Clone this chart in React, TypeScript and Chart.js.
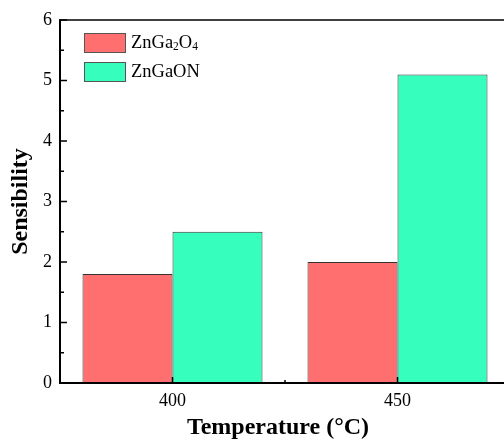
import React, { useEffect, useRef } from "react";
import { Chart, registerables } from "chart.js";

Chart.register(...registerables);

const categories = ["400", "450"];
const seriesNames = ["ZnGa2O4", "ZnGaON"];
const znGa2O4 = [1.8, 2.0];
const znGaON = [2.5, 5.1];
const yTicks = [0, 1, 2, 3, 4, 5, 6];
const xTitle = "Temperature (°C)";
const yTitle = "Sensibility";

const RED = "#FF6F6F";
const GREEN = "#36FFBE";
const SERIF = "'Liberation Serif', 'Times New Roman', serif";

function drawSubText(ctx: CanvasRenderingContext2D, text: string, x: number, y: number, size: number) {
  let cx = x;
  for (const ch of text) {
    if (/[0-9]/.test(ch)) {
      ctx.font = `${size * 0.62}px ${SERIF}`;
      ctx.fillText(ch, cx, y + size * 0.22);
    } else {
      ctx.font = `${size}px ${SERIF}`;
      ctx.fillText(ch, cx, y);
    }
    cx += ctx.measureText(ch).width;
  }
}

const decorPlugin = {
  id: "decor",
  afterDatasetsDraw(chart: any) {
    const { ctx, chartArea, scales } = chart;
    const { left, right, top, bottom } = chartArea;
    const ys = scales.y;
    const xs = scales.x;
    ctx.save();
    ctx.strokeStyle = "#000";
    ctx.lineWidth = 1.5;
    ctx.beginPath();
    ctx.moveTo(left - 0.75, top);
    ctx.lineTo(right, top);
    ctx.stroke();
    ctx.lineWidth = 2;
    ctx.beginPath();
    ctx.moveTo(left, top - 0.75);
    ctx.lineTo(left, bottom + 1);
    ctx.moveTo(left - 1, bottom);
    ctx.lineTo(right, bottom);
    ctx.stroke();
    // y ticks (inside)
    ctx.lineWidth = 1.5;
    ctx.beginPath();
    for (let v = ys.min; v <= ys.max + 1e-9; v += 0.5) {
      const py = ys.getPixelForValue(v);
      const major = Math.abs(v - Math.round(v)) < 1e-9;
      ctx.moveTo(left, py);
      ctx.lineTo(left + (major ? 7 : 4), py);
    }
    // x ticks
    for (let i = 0; i < categories.length; i++) {
      const px = xs.getPixelForValue(i);
      ctx.moveTo(px, bottom);
      ctx.lineTo(px, bottom - 6);
      if (i < categories.length - 1) {
        const mx = (px + xs.getPixelForValue(i + 1)) / 2;
        ctx.moveTo(mx, bottom);
        ctx.lineTo(mx, bottom - 3);
      }
    }
    ctx.stroke();

    // x axis title
    ctx.fillStyle = "#000";
    ctx.font = `bold 24px ${SERIF}`;
    ctx.textAlign = "center";
    ctx.textBaseline = "middle";
    ctx.fillText(xTitle, (left + right) / 2 - 7, 428);

    // legend
    const bx = left + 24;
    let by = top + 13;
    chart.data.datasets.forEach((ds: any) => {
      ctx.fillStyle = ds.backgroundColor;
      ctx.fillRect(bx, by, 42, 20);
      ctx.strokeStyle = "#555";
      ctx.lineWidth = 1;
      ctx.strokeRect(bx + 0.5, by + 0.5, 41, 19);
      ctx.fillStyle = "#000";
      ctx.textBaseline = "middle";
      ctx.textAlign = "left";
      drawSubText(ctx, ds.label, bx + 47, by + 10, 18.5);
      by += 29;
    });
    ctx.restore();
  },
};

export default function App() {
  const ref = useRef<HTMLCanvasElement>(null);
  useEffect(() => {
    if (!ref.current) return;
    const chart = new Chart(ref.current, {
      type: "bar",
      data: {
        labels: categories,
        datasets: [
          {
            label: seriesNames[0],
            data: znGa2O4,
            backgroundColor: RED,
            borderColor: "#333",
            borderWidth: 1,
            categoryPercentage: 0.8,
            barPercentage: 1.0,
          },
          {
            label: seriesNames[1],
            data: znGaON,
            backgroundColor: GREEN,
            borderColor: "#333",
            borderWidth: 1,
            categoryPercentage: 0.8,
            barPercentage: 1.0,
          },
        ],
      },
      options: {
        responsive: false,
        animation: false,
        layout: { padding: { left: 0, top: 20, right: 10, bottom: 0 } },
        plugins: { legend: { display: false }, tooltip: { enabled: false } },
        scales: {
          x: {
            offset: true,
            grid: { display: false, drawTicks: false },
            border: { display: false },
            ticks: { color: "#000", font: { family: SERIF, size: 18 }, padding: 7 },
            title: { display: false },
            afterFit: (s: any) => {
              s.height = 58;
            },
          },
          y: {
            min: yTicks[0],
            max: yTicks[yTicks.length - 1],
            grid: { display: false, drawTicks: false },
            border: { display: false },
            afterBuildTicks: (s: any) => {
              s.ticks = yTicks.map((v) => ({ value: v }));
            },
            ticks: { color: "#000", font: { family: SERIF, size: 18 }, padding: 8 },
            title: {
              display: true,
              text: yTitle,
              color: "#000",
              font: { family: SERIF, size: 24, weight: "bold" },
              padding: { top: 6, bottom: 0 },
            },
            afterFit: (s: any) => {
              s.width = 60;
            },
          },
        },
      },
      plugins: [decorPlugin],
    });
    return () => chart.destroy();
  }, []);
  return (
    <div style={{ position: "absolute", left: 0, top: 0, width: 504, height: 441, overflow: "hidden", background: "#fff" }}>
      <canvas ref={ref} width={520} height={441} style={{ width: 520, height: 441, display: "block" }} />
    </div>
  );
}
